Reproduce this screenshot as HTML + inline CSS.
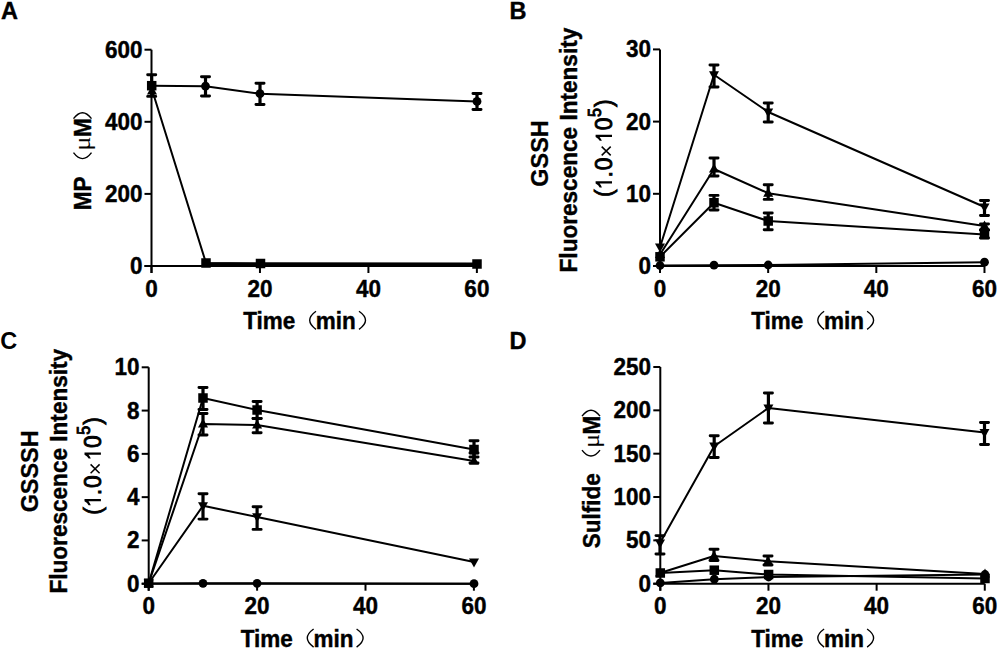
<!DOCTYPE html><html><head><meta charset="utf-8"><style>html,body{margin:0;padding:0;background:#fff;width:1000px;height:650px;overflow:hidden}</style></head><body><svg width="1000" height="650" viewBox="0 0 1000 650" style="display:block">
<style>text{font-family:"Liberation Sans", sans-serif;font-size:22.5px;fill:#000} .b{font-weight:bold;stroke:#000;stroke-width:0.4px} .r{font-weight:normal;stroke:#000;stroke-width:0.85px}</style>
<rect width="1000" height="650" fill="#fff"/>
<text x="1" y="19" class="b" style="font-size:23.5px">A</text>
<text x="509.5" y="19" class="b" style="font-size:23.5px">B</text>
<text x="0.3" y="349" style="font-size:23.5px;font-weight:bold">C</text>
<text x="509.5" y="349" class="b" style="font-size:23.5px">D</text>
<path d="M151.50 49.70V273.00M144.50 266.00H476.88" stroke="#000" stroke-width="2.0" fill="none"/>
<path d="M144.50 266.00H151.50" stroke="#000" stroke-width="2.0"/>
<path d="M144.50 193.90H151.50" stroke="#000" stroke-width="2.0"/>
<path d="M144.50 121.80H151.50" stroke="#000" stroke-width="2.0"/>
<path d="M144.50 49.70H151.50" stroke="#000" stroke-width="2.0"/>
<path d="M151.50 266.00V273.00" stroke="#000" stroke-width="2.0"/>
<path d="M259.96 266.00V273.00" stroke="#000" stroke-width="2.0"/>
<path d="M368.42 266.00V273.00" stroke="#000" stroke-width="2.0"/>
<path d="M476.88 266.00V273.00" stroke="#000" stroke-width="2.0"/>
<text transform="translate(142.50 274.00) scale(1 1.08)" text-anchor="end" class="b">0</text>
<text transform="translate(142.50 201.90) scale(1 1.08)" text-anchor="end" class="b">200</text>
<text transform="translate(142.50 129.80) scale(1 1.08)" text-anchor="end" class="b">400</text>
<text transform="translate(142.50 57.70) scale(1 1.08)" text-anchor="end" class="b">600</text>
<text transform="translate(151.50 296.70) scale(1 1.08)" text-anchor="middle" class="b">0</text>
<text transform="translate(259.96 296.70) scale(1 1.08)" text-anchor="middle" class="b">20</text>
<text transform="translate(368.42 296.70) scale(1 1.08)" text-anchor="middle" class="b">40</text>
<text transform="translate(476.88 296.70) scale(1 1.08)" text-anchor="middle" class="b">60</text>
<path d="M151.5 88L206 263L260.5 263.5L477 264" stroke="#000" stroke-width="2.0" fill="none"/>
<path d="M206 264.5H477" stroke="#000" stroke-width="4.2" fill="none"/>
<path d="M152.00 85.60L157.00 94.60H147.00Z"/>
<rect x="201.25" y="258.25" width="9.5" height="9.5"/>
<rect x="255.75" y="258.75" width="9.5" height="9.5"/>
<rect x="472.25" y="259.25" width="9.5" height="9.5"/>
<path d="M151.70 85.70L205.50 86.20L260.00 93.70L477.00 101.40" stroke="#000" stroke-width="2.0" fill="none" stroke-linejoin="round"/>
<path d="M151.70 74.70V96.40" stroke="#000" stroke-width="3.2"/>
<path d="M147.65 74.70H155.75M147.65 96.40H155.75" stroke="#000" stroke-width="2.9" stroke-linecap="round"/>
<path d="M205.50 76.80V96.00" stroke="#000" stroke-width="3.2"/>
<path d="M201.45 76.80H209.55M201.45 96.00H209.55" stroke="#000" stroke-width="2.9" stroke-linecap="round"/>
<path d="M260.00 83.20V104.50" stroke="#000" stroke-width="3.2"/>
<path d="M255.95 83.20H264.05M255.95 104.50H264.05" stroke="#000" stroke-width="2.9" stroke-linecap="round"/>
<path d="M477.00 93.50V109.50" stroke="#000" stroke-width="3.2"/>
<path d="M472.95 93.50H481.05M472.95 109.50H481.05" stroke="#000" stroke-width="2.9" stroke-linecap="round"/>
<circle cx="151.70" cy="85.70" r="4.4"/>
<circle cx="205.50" cy="86.20" r="4.4"/>
<circle cx="260.00" cy="93.70" r="4.4"/>
<circle cx="477.00" cy="101.40" r="4.4"/>
<rect x="146.95" y="80.95" width="9.5" height="9.5"/>
<path d="M660.00 49.40V273.00M653.00 266.00H984.48" stroke="#000" stroke-width="2.0" fill="none"/>
<path d="M653.00 266.00H660.00" stroke="#000" stroke-width="2.0"/>
<path d="M653.00 193.80H660.00" stroke="#000" stroke-width="2.0"/>
<path d="M653.00 121.60H660.00" stroke="#000" stroke-width="2.0"/>
<path d="M653.00 49.40H660.00" stroke="#000" stroke-width="2.0"/>
<path d="M660.00 266.00V273.00" stroke="#000" stroke-width="2.0"/>
<path d="M768.16 266.00V273.00" stroke="#000" stroke-width="2.0"/>
<path d="M876.32 266.00V273.00" stroke="#000" stroke-width="2.0"/>
<path d="M984.48 266.00V273.00" stroke="#000" stroke-width="2.0"/>
<text transform="translate(651.00 274.00) scale(1 1.08)" text-anchor="end" class="b">0</text>
<text transform="translate(651.00 201.80) scale(1 1.08)" text-anchor="end" class="b">10</text>
<text transform="translate(651.00 129.60) scale(1 1.08)" text-anchor="end" class="b">20</text>
<text transform="translate(651.00 57.40) scale(1 1.08)" text-anchor="end" class="b">30</text>
<text transform="translate(660.00 296.70) scale(1 1.08)" text-anchor="middle" class="b">0</text>
<text transform="translate(768.16 296.70) scale(1 1.08)" text-anchor="middle" class="b">20</text>
<text transform="translate(876.32 296.70) scale(1 1.08)" text-anchor="middle" class="b">40</text>
<text transform="translate(984.48 296.70) scale(1 1.08)" text-anchor="middle" class="b">60</text>
<path d="M660.00 265.50L714.00 265.20L768.20 265.00L984.50 262.20" stroke="#000" stroke-width="2.0" fill="none" stroke-linejoin="round"/>
<circle cx="660.00" cy="265.50" r="4.4"/>
<circle cx="714.00" cy="265.20" r="4.4"/>
<circle cx="768.20" cy="265.00" r="4.4"/>
<circle cx="984.50" cy="262.20" r="4.4"/>
<path d="M660.00 256.80L714.00 202.70L768.20 221.00L984.50 234.40" stroke="#000" stroke-width="2.0" fill="none" stroke-linejoin="round"/>
<path d="M714.00 195.40V210.00" stroke="#000" stroke-width="3.2"/>
<path d="M709.95 195.40H718.05M709.95 210.00H718.05" stroke="#000" stroke-width="2.9" stroke-linecap="round"/>
<path d="M768.20 213.00V229.80" stroke="#000" stroke-width="3.2"/>
<path d="M764.15 213.00H772.25M764.15 229.80H772.25" stroke="#000" stroke-width="2.9" stroke-linecap="round"/>
<path d="M984.50 230.00V238.00" stroke="#000" stroke-width="3.2"/>
<path d="M980.45 230.00H988.55M980.45 238.00H988.55" stroke="#000" stroke-width="2.9" stroke-linecap="round"/>
<rect x="655.25" y="252.05" width="9.5" height="9.5"/>
<rect x="709.25" y="197.95" width="9.5" height="9.5"/>
<rect x="763.45" y="216.25" width="9.5" height="9.5"/>
<rect x="979.75" y="229.65" width="9.5" height="9.5"/>
<path d="M660.00 254.50L714.00 169.00L768.20 193.20L984.50 226.00" stroke="#000" stroke-width="2.0" fill="none" stroke-linejoin="round"/>
<path d="M714.00 158.00V176.00" stroke="#000" stroke-width="3.2"/>
<path d="M709.95 158.00H718.05M709.95 176.00H718.05" stroke="#000" stroke-width="2.9" stroke-linecap="round"/>
<path d="M768.20 184.80V199.40" stroke="#000" stroke-width="3.2"/>
<path d="M764.15 184.80H772.25M764.15 199.40H772.25" stroke="#000" stroke-width="2.9" stroke-linecap="round"/>
<path d="M984.50 224.00V230.00" stroke="#000" stroke-width="3.2"/>
<path d="M980.45 224.00H988.55M980.45 230.00H988.55" stroke="#000" stroke-width="2.9" stroke-linecap="round"/>
<path d="M660.00 249.10L665.00 258.10H655.00Z"/>
<path d="M714.00 163.60L719.00 172.60H709.00Z"/>
<path d="M768.20 187.80L773.20 196.80H763.20Z"/>
<path d="M984.50 220.60L989.50 229.60H979.50Z"/>
<path d="M660.00 247.20L714.00 74.80L768.20 112.00L984.50 207.00" stroke="#000" stroke-width="2.0" fill="none" stroke-linejoin="round"/>
<path d="M714.00 65.00V87.00" stroke="#000" stroke-width="3.2"/>
<path d="M709.95 65.00H718.05M709.95 87.00H718.05" stroke="#000" stroke-width="2.9" stroke-linecap="round"/>
<path d="M768.20 103.00V122.00" stroke="#000" stroke-width="3.2"/>
<path d="M764.15 103.00H772.25M764.15 122.00H772.25" stroke="#000" stroke-width="2.9" stroke-linecap="round"/>
<path d="M984.50 200.50V215.50" stroke="#000" stroke-width="3.2"/>
<path d="M980.45 200.50H988.55M980.45 215.50H988.55" stroke="#000" stroke-width="2.9" stroke-linecap="round"/>
<path d="M660.00 252.60L665.00 243.60H655.00Z"/>
<path d="M714.00 80.20L719.00 71.20H709.00Z"/>
<path d="M768.20 117.40L773.20 108.40H763.20Z"/>
<path d="M984.50 212.40L989.50 203.40H979.50Z"/>
<path d="M148.70 367.30V590.70M141.70 583.70H473.90" stroke="#000" stroke-width="2.0" fill="none"/>
<path d="M141.70 583.70H148.70" stroke="#000" stroke-width="2.0"/>
<path d="M141.70 540.42H148.70" stroke="#000" stroke-width="2.0"/>
<path d="M141.70 497.14H148.70" stroke="#000" stroke-width="2.0"/>
<path d="M141.70 453.86H148.70" stroke="#000" stroke-width="2.0"/>
<path d="M141.70 410.58H148.70" stroke="#000" stroke-width="2.0"/>
<path d="M141.70 367.30H148.70" stroke="#000" stroke-width="2.0"/>
<path d="M148.70 583.70V590.70" stroke="#000" stroke-width="2.0"/>
<path d="M257.10 583.70V590.70" stroke="#000" stroke-width="2.0"/>
<path d="M365.50 583.70V590.70" stroke="#000" stroke-width="2.0"/>
<path d="M473.90 583.70V590.70" stroke="#000" stroke-width="2.0"/>
<text transform="translate(139.50 591.70) scale(1 1.08)" text-anchor="end" class="b">0</text>
<text transform="translate(139.50 548.42) scale(1 1.08)" text-anchor="end" class="b">2</text>
<text transform="translate(139.50 505.14) scale(1 1.08)" text-anchor="end" class="b">4</text>
<text transform="translate(139.50 461.86) scale(1 1.08)" text-anchor="end" class="b">6</text>
<text transform="translate(139.50 418.58) scale(1 1.08)" text-anchor="end" class="b">8</text>
<text transform="translate(139.50 375.30) scale(1 1.08)" text-anchor="end" class="b">10</text>
<text transform="translate(148.70 614.30) scale(1 1.08)" text-anchor="middle" class="b">0</text>
<text transform="translate(257.10 614.30) scale(1 1.08)" text-anchor="middle" class="b">20</text>
<text transform="translate(365.50 614.30) scale(1 1.08)" text-anchor="middle" class="b">40</text>
<text transform="translate(473.90 614.30) scale(1 1.08)" text-anchor="middle" class="b">60</text>
<path d="M148.70 583.50L203.00 583.30L257.10 583.30L474.00 583.70" stroke="#000" stroke-width="2.0" fill="none" stroke-linejoin="round"/>
<circle cx="148.70" cy="583.50" r="4.4"/>
<circle cx="203.00" cy="583.30" r="4.4"/>
<circle cx="257.10" cy="583.30" r="4.4"/>
<circle cx="474.00" cy="583.70" r="4.4"/>
<path d="M148.70 583.20L203.00 505.80L257.10 516.90L474.00 562.00" stroke="#000" stroke-width="2.0" fill="none" stroke-linejoin="round"/>
<path d="M203.00 493.80V519.10" stroke="#000" stroke-width="3.2"/>
<path d="M198.95 493.80H207.05M198.95 519.10H207.05" stroke="#000" stroke-width="2.9" stroke-linecap="round"/>
<path d="M257.10 506.80V529.40" stroke="#000" stroke-width="3.2"/>
<path d="M253.05 506.80H261.15M253.05 529.40H261.15" stroke="#000" stroke-width="2.9" stroke-linecap="round"/>
<path d="M148.70 588.60L153.70 579.60H143.70Z"/>
<path d="M203.00 511.20L208.00 502.20H198.00Z"/>
<path d="M257.10 522.30L262.10 513.30H252.10Z"/>
<path d="M474.00 567.40L479.00 558.40H469.00Z"/>
<path d="M148.70 583.20L203.00 424.00L257.10 425.00L474.00 461.00" stroke="#000" stroke-width="2.0" fill="none" stroke-linejoin="round"/>
<path d="M203.00 413.50V435.00" stroke="#000" stroke-width="3.2"/>
<path d="M198.95 413.50H207.05M198.95 435.00H207.05" stroke="#000" stroke-width="2.9" stroke-linecap="round"/>
<path d="M257.10 418.50V432.80" stroke="#000" stroke-width="3.2"/>
<path d="M253.05 418.50H261.15M253.05 432.80H261.15" stroke="#000" stroke-width="2.9" stroke-linecap="round"/>
<path d="M474.00 453.00V463.00" stroke="#000" stroke-width="3.2"/>
<path d="M469.95 453.00H478.05M469.95 463.00H478.05" stroke="#000" stroke-width="2.9" stroke-linecap="round"/>
<path d="M148.70 577.80L153.70 586.80H143.70Z"/>
<path d="M203.00 418.60L208.00 427.60H198.00Z"/>
<path d="M257.10 419.60L262.10 428.60H252.10Z"/>
<path d="M474.00 455.60L479.00 464.60H469.00Z"/>
<path d="M148.70 583.20L203.00 398.00L257.10 410.00L474.00 449.50" stroke="#000" stroke-width="2.0" fill="none" stroke-linejoin="round"/>
<path d="M203.00 387.50V409.50" stroke="#000" stroke-width="3.2"/>
<path d="M198.95 387.50H207.05M198.95 409.50H207.05" stroke="#000" stroke-width="2.9" stroke-linecap="round"/>
<path d="M257.10 401.50V418.50" stroke="#000" stroke-width="3.2"/>
<path d="M253.05 401.50H261.15M253.05 418.50H261.15" stroke="#000" stroke-width="2.9" stroke-linecap="round"/>
<path d="M474.00 440.80V457.00" stroke="#000" stroke-width="3.2"/>
<path d="M469.95 440.80H478.05M469.95 457.00H478.05" stroke="#000" stroke-width="2.9" stroke-linecap="round"/>
<rect x="143.95" y="578.45" width="9.5" height="9.5"/>
<rect x="198.25" y="393.25" width="9.5" height="9.5"/>
<rect x="252.35" y="405.25" width="9.5" height="9.5"/>
<rect x="469.25" y="444.75" width="9.5" height="9.5"/>
<path d="M660.30 367.00V590.70M653.30 583.70H984.78" stroke="#000" stroke-width="2.0" fill="none"/>
<path d="M653.30 583.70H660.30" stroke="#000" stroke-width="2.0"/>
<path d="M653.30 540.36H660.30" stroke="#000" stroke-width="2.0"/>
<path d="M653.30 497.02H660.30" stroke="#000" stroke-width="2.0"/>
<path d="M653.30 453.68H660.30" stroke="#000" stroke-width="2.0"/>
<path d="M653.30 410.34H660.30" stroke="#000" stroke-width="2.0"/>
<path d="M653.30 367.00H660.30" stroke="#000" stroke-width="2.0"/>
<path d="M660.30 583.70V590.70" stroke="#000" stroke-width="2.0"/>
<path d="M768.46 583.70V590.70" stroke="#000" stroke-width="2.0"/>
<path d="M876.62 583.70V590.70" stroke="#000" stroke-width="2.0"/>
<path d="M984.78 583.70V590.70" stroke="#000" stroke-width="2.0"/>
<text transform="translate(651.00 591.70) scale(1 1.08)" text-anchor="end" class="b">0</text>
<text transform="translate(651.00 548.36) scale(1 1.08)" text-anchor="end" class="b">50</text>
<text transform="translate(651.00 505.02) scale(1 1.08)" text-anchor="end" class="b">100</text>
<text transform="translate(651.00 461.68) scale(1 1.08)" text-anchor="end" class="b">150</text>
<text transform="translate(651.00 418.34) scale(1 1.08)" text-anchor="end" class="b">200</text>
<text transform="translate(651.00 375.00) scale(1 1.08)" text-anchor="end" class="b">250</text>
<text transform="translate(660.30 614.30) scale(1 1.08)" text-anchor="middle" class="b">0</text>
<text transform="translate(768.46 614.30) scale(1 1.08)" text-anchor="middle" class="b">20</text>
<text transform="translate(876.62 614.30) scale(1 1.08)" text-anchor="middle" class="b">40</text>
<text transform="translate(984.78 614.30) scale(1 1.08)" text-anchor="middle" class="b">60</text>
<path d="M660.30 582.90L714.30 579.20L768.60 577.00L985.00 574.50" stroke="#000" stroke-width="2.0" fill="none" stroke-linejoin="round"/>
<circle cx="660.30" cy="582.90" r="4.4"/>
<circle cx="714.30" cy="579.20" r="4.4"/>
<circle cx="768.60" cy="577.00" r="4.4"/>
<circle cx="985.00" cy="574.50" r="4.4"/>
<path d="M660.30 573.00L714.30 570.20L768.60 574.50L985.00 578.50" stroke="#000" stroke-width="2.0" fill="none" stroke-linejoin="round"/>
<rect x="655.55" y="568.25" width="9.5" height="9.5"/>
<rect x="709.55" y="565.45" width="9.5" height="9.5"/>
<rect x="763.85" y="569.75" width="9.5" height="9.5"/>
<rect x="980.25" y="573.75" width="9.5" height="9.5"/>
<path d="M660.00 573.00L714.00 556.00L768.00 561.20L985.00 574.00" stroke="#000" stroke-width="2.0" fill="none" stroke-linejoin="round"/>
<path d="M714.00 549.20V560.50" stroke="#000" stroke-width="3.2"/>
<path d="M709.95 549.20H718.05M709.95 560.50H718.05" stroke="#000" stroke-width="2.9" stroke-linecap="round"/>
<path d="M768.00 556.00V565.00" stroke="#000" stroke-width="3.2"/>
<path d="M763.95 556.00H772.05M763.95 565.00H772.05" stroke="#000" stroke-width="2.9" stroke-linecap="round"/>
<path d="M660.00 567.60L665.00 576.60H655.00Z"/>
<path d="M714.00 550.60L719.00 559.60H709.00Z"/>
<path d="M768.00 555.80L773.00 564.80H763.00Z"/>
<path d="M985.00 568.60L990.00 577.60H980.00Z"/>
<path d="M660.00 543.00L714.20 446.20L768.40 408.00L984.50 432.50" stroke="#000" stroke-width="2.0" fill="none" stroke-linejoin="round"/>
<path d="M660.00 535.60V554.00" stroke="#000" stroke-width="3.2"/>
<path d="M655.95 535.60H664.05M655.95 554.00H664.05" stroke="#000" stroke-width="2.9" stroke-linecap="round"/>
<path d="M714.20 435.70V457.50" stroke="#000" stroke-width="3.2"/>
<path d="M710.15 435.70H718.25M710.15 457.50H718.25" stroke="#000" stroke-width="2.9" stroke-linecap="round"/>
<path d="M768.40 393.00V423.00" stroke="#000" stroke-width="3.2"/>
<path d="M764.35 393.00H772.45M764.35 423.00H772.45" stroke="#000" stroke-width="2.9" stroke-linecap="round"/>
<path d="M984.50 422.50V444.50" stroke="#000" stroke-width="3.2"/>
<path d="M980.45 422.50H988.55M980.45 444.50H988.55" stroke="#000" stroke-width="2.9" stroke-linecap="round"/>
<path d="M660.00 548.40L665.00 539.40H655.00Z"/>
<path d="M714.20 451.60L719.20 442.60H709.20Z"/>
<path d="M768.40 413.40L773.40 404.40H763.40Z"/>
<path d="M984.50 437.90L989.50 428.90H979.50Z"/>
<g transform="translate(242.80 328.80)">
<text transform="scale(1 1.06)" x="0.4" y="0" class="b">Time</text>
<text transform="scale(1 1.06)" x="73" y="0" class="b">min</text>
<path d="M73.20 -17.50Q60.60 -8.45 73.20 0.60 M116.20 -17.50Q129.20 -8.45 116.20 0.60" stroke="#000" stroke-width="1.4" fill="none"/>
</g>
<g transform="translate(750.90 328.80)">
<text transform="scale(1 1.06)" x="0.4" y="0" class="b">Time</text>
<text transform="scale(1 1.06)" x="73" y="0" class="b">min</text>
<path d="M73.20 -17.50Q60.60 -8.45 73.20 0.60 M116.20 -17.50Q129.20 -8.45 116.20 0.60" stroke="#000" stroke-width="1.4" fill="none"/>
</g>
<g transform="translate(240.40 646.50)">
<text transform="scale(1 1.06)" x="0.4" y="0" class="b">Time</text>
<text transform="scale(1 1.06)" x="73" y="0" class="b">min</text>
<path d="M73.20 -17.50Q60.60 -8.45 73.20 0.60 M116.20 -17.50Q129.20 -8.45 116.20 0.60" stroke="#000" stroke-width="1.4" fill="none"/>
</g>
<g transform="translate(750.90 646.50)">
<text transform="scale(1 1.06)" x="0.4" y="0" class="b">Time</text>
<text transform="scale(1 1.06)" x="73" y="0" class="b">min</text>
<path d="M73.20 -17.50Q60.60 -8.45 73.20 0.60 M116.20 -17.50Q129.20 -8.45 116.20 0.60" stroke="#000" stroke-width="1.4" fill="none"/>
</g>
<g transform="translate(91.00 209.00) rotate(-90)">
<text transform="scale(1 1.06)" x="-1.2" y="0" class="b">MP</text>
<text transform="translate(58.30 -0.6) scale(1.2 1.08)" style="font-family:'Liberation Serif',serif;font-size:22px">μ</text>
<text transform="scale(1 1.06)" x="72.00" y="0" class="b">M</text>
<path d="M56.30 -17.50Q44.50 -8.50 56.30 0.50 M90.30 -17.50Q102.10 -8.50 90.30 0.50" stroke="#000" stroke-width="1.4" fill="none"/>
</g>
<g transform="translate(599.50 547.00) rotate(-90)">
<text transform="scale(1 1.06)" x="-1.2" y="0" class="b">Sulfide</text>
<text transform="translate(98.90 -0.6) scale(1.2 1.08)" style="font-family:'Liberation Serif',serif;font-size:22px">μ</text>
<text transform="scale(1 1.06)" x="112.60" y="0" class="b">M</text>
<path d="M96.90 -17.50Q85.10 -8.50 96.90 0.50 M130.90 -17.50Q142.70 -8.50 130.90 0.50" stroke="#000" stroke-width="1.4" fill="none"/>
</g>
<text transform="translate(548.4 153.5) rotate(-90) scale(1 1.06)" text-anchor="middle" style="font-weight:bold;font-size:23.4px;stroke:#000;stroke-width:0.25px">GSSH</text>
<text transform="translate(576.8 150.1) rotate(-90) scale(1 1.06)" text-anchor="middle" class="b" style="font-size:22.6px">Fluorescence Intensity</text>
<text transform="translate(37.6 471.4) rotate(-90) scale(1 1.06)" text-anchor="middle" style="font-weight:bold;font-size:23.4px;stroke:#000;stroke-width:0.25px">GSSSH</text>
<text transform="translate(67.0 471.2) rotate(-90) scale(1 1.06)" text-anchor="middle" class="b" style="font-size:22.6px">Fluorescence Intensity</text>
<g transform="translate(612.00 196.00) rotate(-90)" style="fill:#000">
<text transform="translate(-1.00 0.00) scale(1 1.06)" class="r" style="font-size:22.8px">(</text>
<path d="M12.50 -16.4H14.70V0H12.50V-12.4Q10.70 -10.9 8.60 -10.1V-12.3Q11.00 -13.4 12.50 -16.4Z"/>
<text transform="translate(18.60 0.00) scale(1 1.06)" class="r" style="font-size:22.8px">.</text>
<text transform="translate(25.80 0.00) scale(1 1.06)" class="r" style="font-size:22.8px">0</text>
<path d="M40.6 -10.3L49.4 -1.3M49.4 -10.3L40.6 -1.3" stroke="#000" stroke-width="1.5" fill="none"/>
<path d="M59.10 -16.4H61.30V0H59.10V-12.4Q57.30 -10.9 55.20 -10.1V-12.3Q57.60 -13.4 59.10 -16.4Z"/>
<text transform="translate(65.70 0.00) scale(1 1.06)" class="r" style="font-size:22.8px">0</text>
<text transform="translate(79.00 -11.10) scale(1 1.12)" class="r" style="font-size:16px">5</text>
<text transform="translate(89.10 0.00) scale(1 1.06)" class="r" style="font-size:22.8px">)</text>
</g>
<g transform="translate(100.90 513.80) rotate(-90)" style="fill:#000">
<text transform="translate(-1.00 0.00) scale(1 1.06)" class="r" style="font-size:22.8px">(</text>
<path d="M12.50 -16.4H14.70V0H12.50V-12.4Q10.70 -10.9 8.60 -10.1V-12.3Q11.00 -13.4 12.50 -16.4Z"/>
<text transform="translate(18.60 0.00) scale(1 1.06)" class="r" style="font-size:22.8px">.</text>
<text transform="translate(25.80 0.00) scale(1 1.06)" class="r" style="font-size:22.8px">0</text>
<path d="M40.6 -10.3L49.4 -1.3M49.4 -10.3L40.6 -1.3" stroke="#000" stroke-width="1.5" fill="none"/>
<path d="M59.10 -16.4H61.30V0H59.10V-12.4Q57.30 -10.9 55.20 -10.1V-12.3Q57.60 -13.4 59.10 -16.4Z"/>
<text transform="translate(65.70 0.00) scale(1 1.06)" class="r" style="font-size:22.8px">0</text>
<text transform="translate(79.00 -11.10) scale(1 1.12)" class="r" style="font-size:16px">5</text>
<text transform="translate(89.10 0.00) scale(1 1.06)" class="r" style="font-size:22.8px">)</text>
</g>
</svg></body></html>
